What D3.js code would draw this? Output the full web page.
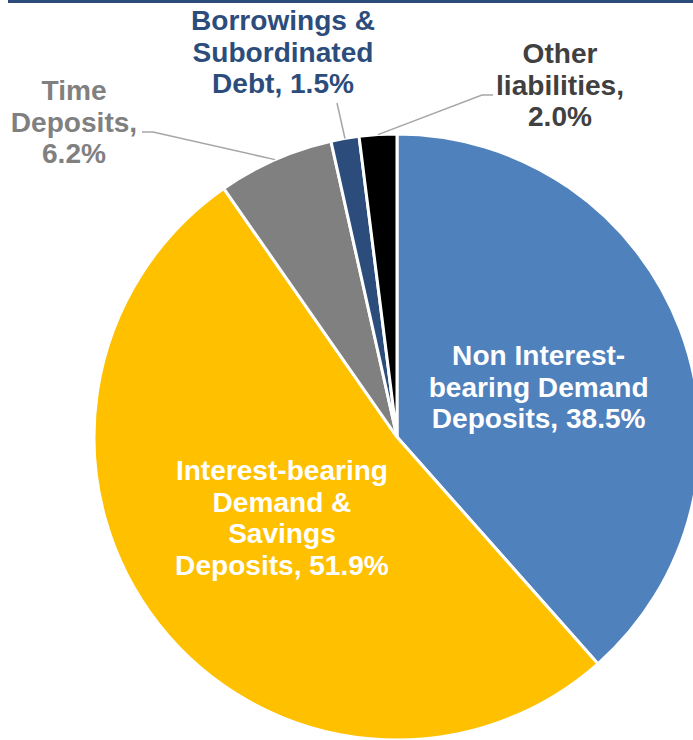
<!DOCTYPE html>
<html>
<head>
<meta charset="utf-8">
<script src="https://cdn.jsdelivr.net/npm/d3@7"></script>
<style>
  html, body { margin: 0; padding: 0; background: #ffffff; }
  svg { display: block; }
  text { font-family: "Liberation Sans", Arial, sans-serif; font-weight: bold; }
</style>
</head>
<body>
<svg id="chart" width="693" height="740"></svg>
<script>
// Funding mix, share of total (%)
const categories = [
  "Non Interest-bearing Demand Deposits",
  "Interest-bearing Demand & Savings Deposits",
  "Time Deposits",
  "Borrowings & Subordinated Debt",
  "Other liabilities"
];
const shares = [38.5, 51.9, 6.2, 1.5, 2.0];
const labelLines = [
  ["Non Interest-", "bearing Demand", "Deposits, 38.5%"],
  ["Interest-bearing", "Demand &", "Savings", "Deposits, 51.9%"],
  ["Time", "Deposits,", "6.2%"],
  ["Borrowings &", "Subordinated", "Debt, 1.5%"],
  ["Other", "liabilities,", "2.0%"]
];
const sliceColors = ["#4F81BD", "#FFC000", "#808080", "#2C4D7B", "#000000"];
const labelColors = ["#FFFFFF", "#FFFFFF", "#808080", "#2C4D7B", "#404040"];

const W = 693, H = 740;
const cx = 397, cy = 437, R = 303;
const fontSize = 27, lineH = 31.5;

const svg = d3.select("#chart");

// thin header rule
svg.append("rect").attr("x", 8).attr("y", 0).attr("width", W - 8).attr("height", 3).attr("fill", "#2C4D7B");

const pie = d3.pie().sort(null).value(d => d)(shares);
const arc = d3.arc().innerRadius(0).outerRadius(R);

const g = svg.append("g").attr("transform", `translate(${cx},${cy})`);

g.selectAll("path.slice")
  .data(pie)
  .join("path")
  .attr("class", "slice")
  .attr("d", arc)
  .attr("fill", (d, i) => sliceColors[i])
  .attr("stroke", "#ffffff")
  .attr("stroke-width", 3)
  .attr("stroke-linejoin", "miter");

// label placement: inside slices use the arc centroid, small slices get callouts
const inside = [
  { i: 0, dx: 0, dy: 4 },
  { i: 1, dx: 4, dy: -13 }
];
const outside = [
  { i: 2, x: -323, y: -315, start: [-255, -305], elbow: [-244, -305] },
  { i: 3, x: -114, y: -385, start: [-60, -334], elbow: null },
  { i: 4, x: 163, y: -352, start: [96, -342], elbow: [85, -342] }
];

function drawLabel(lines, x, y, color) {
  const n = lines.length;
  const t = g.append("text")
    .attr("text-anchor", "middle")
    .attr("fill", color)
    .attr("font-size", fontSize)
    .attr("transform", `translate(${x},${y}) scale(1.04,1)`);
  lines.forEach((s, k) => {
    t.append("tspan")
      .attr("x", 0)
      .attr("y", (k - (n - 1) / 2) * lineH + fontSize * 0.36)
      .text(s);
  });
}

inside.forEach(o => {
  const c = arc.centroid(pie[o.i]);
  drawLabel(labelLines[o.i], c[0] + o.dx, c[1] + o.dy, labelColors[o.i]);
});

outside.forEach(o => {
  const d = pie[o.i];
  const mid = (d.startAngle + d.endAngle) / 2;
  const edge = [Math.sin(mid) * R, -Math.cos(mid) * R];
  const pts = [o.start];
  if (o.elbow) pts.push(o.elbow);
  pts.push(edge);
  g.append("path")
    .attr("d", d3.line()(pts))
    .attr("fill", "none")
    .attr("stroke", "#A6A6A6")
    .attr("stroke-width", 1.5);
  drawLabel(labelLines[o.i], o.x, o.y, labelColors[o.i]);
});
</script>
</body>
</html>
